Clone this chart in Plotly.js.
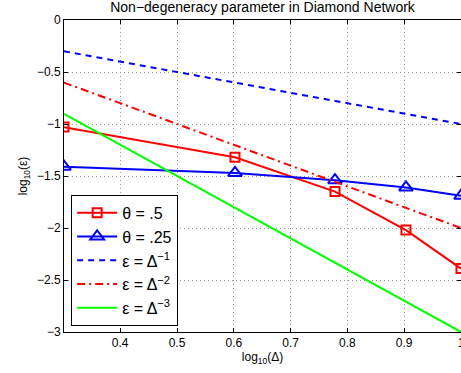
<!DOCTYPE html>
<html><head><meta charset="utf-8">
<script src="https://cdn.plot.ly/plotly-3.0.1.min.js"></script>
<style>html,body{margin:0;padding:0;background:#fff;}#chart{width:461px;height:373px;}</style>
</head><body><div id="chart"></div>
<script>
const logDelta = [0.30103, 0.60206, 0.77815, 0.90309, 1.0];
const theta05 = [-1.03, -1.32, -1.65, -2.02, -2.39];
const theta025 = [-1.41, -1.47, -1.54, -1.61, -1.69];
const epsInv1 = [-0.30103, -0.60206, -0.77815, -0.90309, -1.0];
const epsInv2 = [-0.60206, -1.20412, -1.5563, -1.80618, -2.0];
const epsInv3 = [-0.90309, -1.80618, -2.33445, -2.70927, -3.0];
const names = ['θ = .5', 'θ = .25', 'ε = Δ<sup>−1</sup>', 'ε = Δ<sup>−2</sup>', 'ε = Δ<sup>−3</sup>'];
const xTicks = [0.4, 0.5, 0.6, 0.7, 0.8, 0.9, 1];
const xTickText = ['0.4', '0.5', '0.6', '0.7', '0.8', '0.9', '1'];
const yTicks = [0, -0.5, -1, -1.5, -2, -2.5, -3];
const yTickText = ['0', '−0.5', '−1', '−1.5', '−2', '−2.5', '−3'];

const traces = [
  {x: logDelta, y: theta05, name: names[0], mode: 'lines+markers',
   line: {color: '#ff0000', width: 2},
   marker: {symbol: 'square-open', size: 9, color: '#ff0000', line: {width: 2}}},
  {x: logDelta, y: theta025, name: names[1], mode: 'lines+markers',
   line: {color: '#0000ff', width: 2},
   marker: {symbol: 'triangle-up-open', size: 12, color: '#0000ff', line: {width: 2}}},
  {x: logDelta, y: epsInv1, name: names[2], mode: 'lines',
   line: {color: '#0000ff', width: 2, dash: '6px,5px'}},
  {x: logDelta, y: epsInv2, name: names[3], mode: 'lines',
   line: {color: '#ff0000', width: 2, dash: '8px,4px,2px,4px'}},
  {x: logDelta, y: epsInv3, name: names[4], mode: 'lines',
   line: {color: '#00ff00', width: 2}}
];

const axisCommon = {
  showline: true, linecolor: '#000', linewidth: 1, mirror: 'ticks',
  ticks: 'inside', ticklen: 4, tickcolor: '#000', tickwidth: 1,
  showgrid: true, gridcolor: '#999', griddash: '1px,3px', gridwidth: 1,
  zeroline: false, ticklabeloverflow: 'allow',
  tickfont: {family: 'Liberation Sans, Arial', size: 12, color: '#000'}
};

const layout = {
  width: 461, height: 373,
  margin: {l: 64, r: 0, t: 19.5, b: 41, pad: 0},
  paper_bgcolor: '#fff', plot_bgcolor: '#fff',
  font: {family: 'Liberation Sans, Arial', color: '#000'},
  title: {text: 'Non−degeneracy parameter in Diamond Network', font: {size: 14, color: '#000'},
          x: 0.5695, xanchor: 'center', y: 0.98, yanchor: 'middle'},
  xaxis: Object.assign({}, axisCommon, {range: [0.30103, 1], tickvals: xTicks, ticktext: xTickText,
    title: {text: 'log<sub>10</sub>(Δ)', font: {size: 12}, standoff: 3}}),
  yaxis: Object.assign({}, axisCommon, {range: [-3, 0], tickvals: yTicks, ticktext: yTickText,
    title: {text: 'log<sub>10</sub>(ε)', font: {size: 12}, standoff: 6}}),
  showlegend: true,
  legend: {x: 0.018, y: 0.02, xanchor: 'left', yanchor: 'bottom',
    bgcolor: '#fff', bordercolor: '#000', borderwidth: 1,
    font: {size: 16, color: '#000'}, tracegroupgap: 0, itemwidth: 40}
};

Plotly.newPlot('chart', traces, layout, {displayModeBar: false, staticPlot: true});
</script>
</body></html>
